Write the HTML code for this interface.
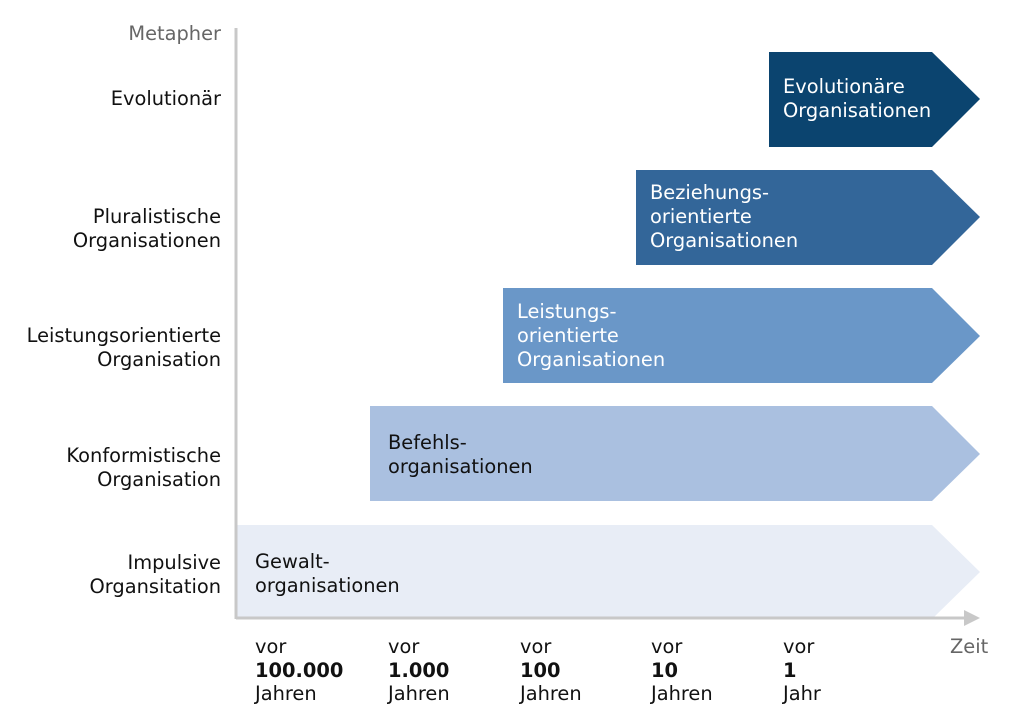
<!DOCTYPE html>
<html><head><meta charset="utf-8"><style>html,body{margin:0;padding:0;background:#fff}</style></head>
<body>
<svg width="1024" height="716" viewBox="0 0 1024 716" xmlns="http://www.w3.org/2000/svg" font-family="DejaVu Sans, Liberation Sans, sans-serif" font-size="19.4">
<polygon points="237,525 932,525 980,572 932,619 237,619" fill="#e8edf6"/>
<polygon points="370,406 932,406 980,454 932,501 370,501" fill="#aac0e0"/>
<polygon points="503,288 932,288 980,336 932,383 503,383" fill="#6a97c8"/>
<polygon points="636,170 932,170 980,217 932,265 636,265" fill="#336699"/>
<polygon points="769,52 932,52 980,99 932,147 769,147" fill="#0b446f"/>
<line x1="236" y1="28" x2="236" y2="619" stroke="#c8c8c8" stroke-width="3"/>
<line x1="236" y1="618" x2="966" y2="618" stroke="#c8c8c8" stroke-width="3"/>
<polygon points="964,610 980,618 964,626" fill="#c8c8c8"/>
<g text-anchor="end" fill="#111">
<text x="221" y="40" fill="#666">Metapher</text>
<text x="221" y="105">Evolutionär</text>
<text x="221" y="223">Pluralistische</text><text x="221" y="247">Organisationen</text>
<text x="221" y="342">Leistungsorientierte</text><text x="221" y="366">Organisation</text>
<text x="221" y="462">Konformistische</text><text x="221" y="486">Organisation</text>
<text x="221" y="569">Impulsive</text><text x="221" y="593">Organsitation</text>
</g>
<g fill="#fff">
<text x="783" y="93">Evolutionäre</text><text x="783" y="117">Organisationen</text>
<text x="650" y="199">Beziehungs-</text><text x="650" y="223">orientierte</text><text x="650" y="247">Organisationen</text>
<text x="517" y="318">Leistungs-</text><text x="517" y="342">orientierte</text><text x="517" y="366">Organisationen</text>
</g>
<g fill="#111">
<text x="388" y="449">Befehls-</text><text x="388" y="473">organisationen</text>
<text x="255" y="568">Gewalt-</text><text x="255" y="592">organisationen</text>
<text x="255" y="653">vor</text><text x="255" y="677" font-weight="bold">100.000</text><text x="255" y="700">Jahren</text>
<text x="388" y="653">vor</text><text x="388" y="677" font-weight="bold">1.000</text><text x="388" y="700">Jahren</text>
<text x="520" y="653">vor</text><text x="520" y="677" font-weight="bold">100</text><text x="520" y="700">Jahren</text>
<text x="651" y="653">vor</text><text x="651" y="677" font-weight="bold">10</text><text x="651" y="700">Jahren</text>
<text x="783" y="653">vor</text><text x="783" y="677" font-weight="bold">1</text><text x="783" y="700">Jahr</text>
<text x="950" y="653" fill="#666">Zeit</text>
</g>
</svg>
</body></html>
